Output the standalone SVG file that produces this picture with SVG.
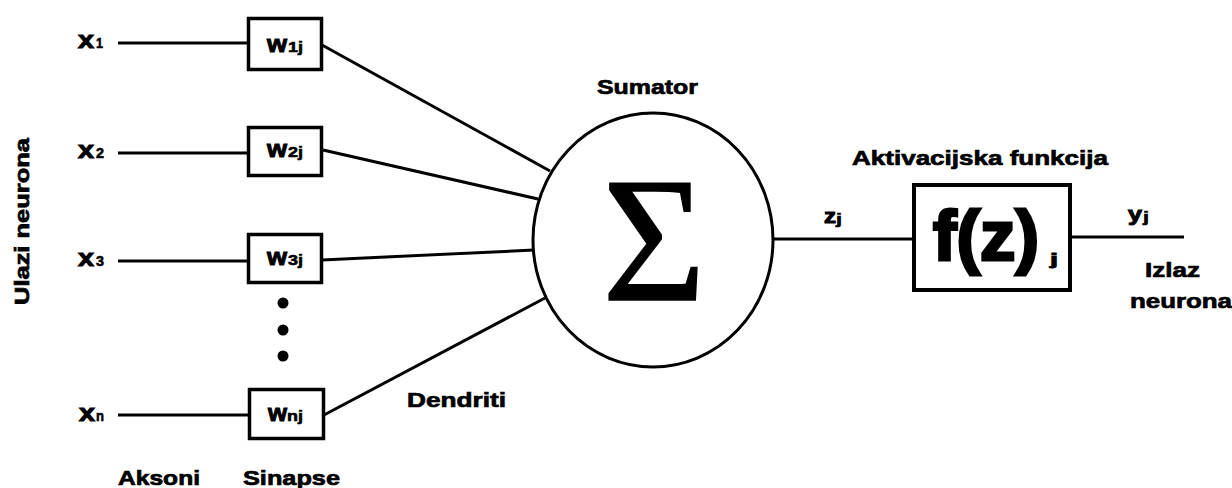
<svg xmlns="http://www.w3.org/2000/svg" width="1232" height="488" viewBox="0 0 1232 488">
<style>
text{font-family:"Liberation Sans",Arial,sans-serif;font-weight:bold;fill:#000;stroke:#000;stroke-width:0.7}
.lbl{font-size:21px}
.x{font-size:23px;stroke-width:1}
.sub{font-size:15px;stroke-width:0.6}
.ln{stroke:#000;stroke-width:3;fill:none}
.box{stroke:#000;stroke-width:3.5;fill:#fff}
</style>
<rect width="1232" height="488" fill="#fff"/>
<g id="connectors">
<line class="ln" x1="118" y1="43" x2="248" y2="43"/>
<line class="ln" x1="118" y1="153" x2="248" y2="153"/>
<line class="ln" x1="118" y1="261" x2="248" y2="261"/>
<line class="ln" x1="118" y1="415" x2="249" y2="415"/>
<line class="ln" x1="322" y1="45" x2="550" y2="171"/>
<line class="ln" x1="323" y1="150" x2="538" y2="199"/>
<line class="ln" x1="322" y1="260" x2="534" y2="250"/>
<line class="ln" x1="324" y1="415" x2="545" y2="298"/>
<line class="ln" x1="773" y1="239" x2="913" y2="239"/>
<line class="ln" x1="1071" y1="237" x2="1184" y2="237"/>
</g>
<g id="inputs">
<text class="x" x="78" y="48" textLength="16" lengthAdjust="spacingAndGlyphs">x</text><text class="sub" x="96" y="48" textLength="7" lengthAdjust="spacingAndGlyphs">1</text>
<text class="x" x="78" y="158" textLength="16" lengthAdjust="spacingAndGlyphs">x</text><text class="sub" x="96" y="158" textLength="8" lengthAdjust="spacingAndGlyphs">2</text>
<text class="x" x="78" y="266" textLength="16" lengthAdjust="spacingAndGlyphs">x</text><text class="sub" x="96" y="266" textLength="8" lengthAdjust="spacingAndGlyphs">3</text>
<text class="x" x="79" y="421" textLength="16" lengthAdjust="spacingAndGlyphs">x</text><text class="sub" x="96" y="421" textLength="8" lengthAdjust="spacingAndGlyphs">n</text>
</g>
<g id="w1j">
<rect class="box" x="248.5" y="18.5" width="73" height="51"/>
<text class="x" x="267" y="52" textLength="20" lengthAdjust="spacingAndGlyphs">w</text><text class="sub" x="288" y="52" textLength="15" lengthAdjust="spacingAndGlyphs">1j</text>
</g>
<g id="w2j">
<rect class="box" x="248.5" y="127.5" width="73" height="48"/>
<text class="x" x="267" y="157" textLength="20" lengthAdjust="spacingAndGlyphs">w</text><text class="sub" x="288" y="157" textLength="15" lengthAdjust="spacingAndGlyphs">2j</text>
</g>
<g id="w3j">
<rect class="box" x="248.5" y="234.5" width="73" height="48"/>
<text class="x" x="267" y="265" textLength="20" lengthAdjust="spacingAndGlyphs">w</text><text class="sub" x="288" y="265" textLength="15" lengthAdjust="spacingAndGlyphs">3j</text>
</g>
<g id="dots">
<circle cx="283" cy="303" r="5.5"/>
<circle cx="283" cy="330" r="5.5"/>
<circle cx="283" cy="356" r="5.5"/>
</g>
<g id="wnj">
<rect class="box" x="249.5" y="389.5" width="74" height="49"/>
<text class="x" x="268" y="421" textLength="19" lengthAdjust="spacingAndGlyphs">w</text><text class="sub" x="287" y="421" textLength="16" lengthAdjust="spacingAndGlyphs">nj</text>
</g>
<g id="sumator">
<ellipse cx="653" cy="240" rx="120" ry="127" fill="#fff" stroke="#000" stroke-width="3"/>
<text x="654" y="300" text-anchor="middle" style="font-family:'Liberation Serif','Times New Roman',serif;font-weight:normal;font-size:178px;stroke-width:1.5">Σ</text>
<text class="lbl" x="597" y="94" textLength="101" lengthAdjust="spacingAndGlyphs">Sumator</text>
</g>
<g id="activation">
<rect x="914" y="185" width="156" height="105" fill="#fff" stroke="#000" stroke-width="4"/>
<text x="933" y="260" style="font-size:70px;stroke-width:3" textLength="106" lengthAdjust="spacingAndGlyphs">f(z)</text>
<text x="1050" y="265" style="font-size:16px;stroke-width:0.8" textLength="8" lengthAdjust="spacingAndGlyphs">j</text>
<text class="lbl" x="852" y="165" textLength="256" lengthAdjust="spacingAndGlyphs">Aktivacijska funkcija</text>
</g>
<g id="labels">
<text class="x" x="824" y="223" textLength="12" lengthAdjust="spacingAndGlyphs" style="font-size:20px">z</text><text class="sub" x="836" y="224" textLength="6" lengthAdjust="spacingAndGlyphs">j</text>
<text class="x" x="1128" y="221" textLength="14" lengthAdjust="spacingAndGlyphs" style="font-size:20px">y</text><text class="sub" x="1143" y="222" textLength="6" lengthAdjust="spacingAndGlyphs">j</text>
<text class="lbl" x="1145" y="277" textLength="55" lengthAdjust="spacingAndGlyphs">Izlaz</text>
<text class="lbl" x="1130" y="308" textLength="102" lengthAdjust="spacingAndGlyphs">neurona</text>
<text class="lbl" x="407" y="407" textLength="99" lengthAdjust="spacingAndGlyphs">Dendriti</text>
<text class="lbl" x="118" y="485" textLength="82" lengthAdjust="spacingAndGlyphs">Aksoni</text>
<text class="lbl" x="243" y="485" textLength="97" lengthAdjust="spacingAndGlyphs">Sinapse</text>
<text class="lbl" transform="translate(29 221.5) rotate(-90)" text-anchor="middle" textLength="167" lengthAdjust="spacingAndGlyphs">Ulazi neurona</text>
</g>
</svg>
